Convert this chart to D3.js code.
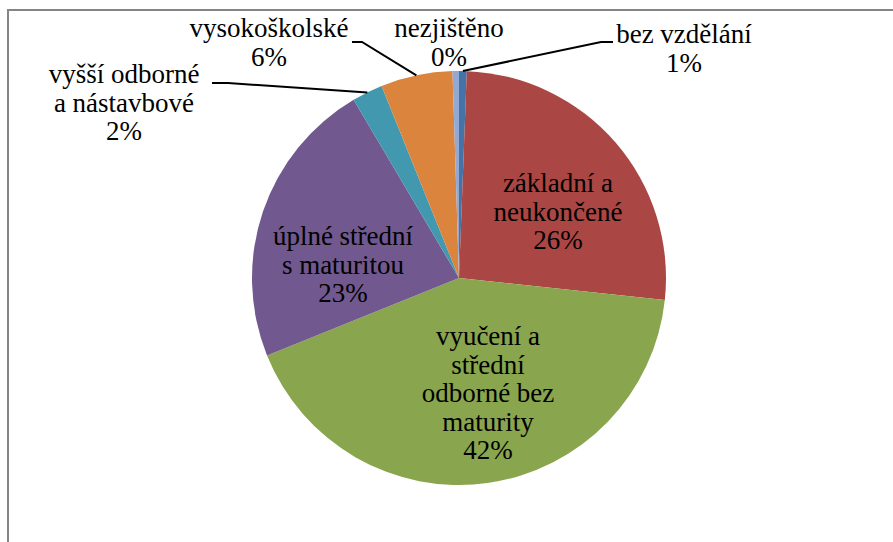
<!DOCTYPE html>
<html>
<head>
<meta charset="utf-8">
<script src="https://cdn.jsdelivr.net/npm/d3@7"></script>
<style>
  body { margin: 0; background: #fff; }
  text { font-family: "Liberation Serif", "Times New Roman", serif; font-size: 27px; fill: #000; }
</style>
</head>
<body>
<div id="chart"></div>
<script>
// data (share in %)
var categories = ["bez vzdělání", "základní a neukončené", "vyučení a střední odborné bez maturity",
                  "úplné střední s maturitou", "vyšší odborné a nástavbové", "vysokoškolské", "nezjištěno"];
var values = [0.6, 26.1, 42.2, 22.6, 2.4, 5.6, 0.5];
var pctLabels = ["1%", "26%", "42%", "23%", "2%", "6%", "0%"];
var labelLines = [["bez vzdělání"], ["základní a", "neukončené"], ["vyučení a", "střední", "odborné bez", "maturity"],
                  ["úplné střední", "s maturitou"], ["vyšší odborné", "a nástavbové"], ["vysokoškolské"], ["nezjištěno"]];
var colors = ["#4572A7", "#AA4643", "#89A54E", "#71588F", "#4198AF", "#DB843D", "#92A9D4"];

var width = 893, height = 542;
var cx = 459, cy = 278, radius = 207;

// label anchors (centre x, first baseline) and leader starts - layout only
var labelPos = [[684, 43], [558, 192], [488, 345], [343, 245], [124, 83], [269, 37], [449, 37]];
var leaders = {0: [[613, 42], [601, 42]], 4: [[212, 83], [228, 83]], 5: [[352, 42], [362, 42]]};
var lineH = 28.5;

var svg = d3.select("#chart").append("svg")
    .attr("width", width)
    .attr("height", height);

// chart frame (only top and left edges show)
svg.append("rect")
    .attr("x", 8).attr("y", 10)
    .attr("width", width + 20).attr("height", height + 20)
    .attr("fill", "none")
    .attr("stroke", "#858585")
    .attr("stroke-width", 2);

var pie = d3.pie().sort(null).value(function(d) { return d; });
var arcs = pie(values);
var arc = d3.arc().innerRadius(0).outerRadius(radius);

var g = svg.append("g").attr("transform", "translate(" + cx + "," + cy + ")");

g.selectAll("path")
  .data(arcs)
  .enter()
  .append("path")
    .attr("d", arc)
    .attr("fill", function(d, i) { return colors[i]; });

// leader lines from the label to the slice edge
Object.keys(leaders).forEach(function(k) {
    var a = arcs[k];
    var mid = (a.startAngle + a.endAngle) / 2;
    var pts = leaders[k].slice();
    pts.push([cx + radius * Math.sin(mid), cy - radius * Math.cos(mid)]);
    svg.append("path")
        .attr("d", d3.line()(pts))
        .attr("fill", "none")
        .attr("stroke", "#000")
        .attr("stroke-width", 2);
});

// labels
labelLines.forEach(function(lines, i) {
    var all = lines.concat([pctLabels[i]]);
    var t = svg.append("text")
        .attr("text-anchor", "middle");
    all.forEach(function(s, j) {
        t.append("tspan")
            .attr("x", labelPos[i][0])
            .attr("y", labelPos[i][1] + j * lineH)
            .text(s);
    });
});
</script>
</body>
</html>
